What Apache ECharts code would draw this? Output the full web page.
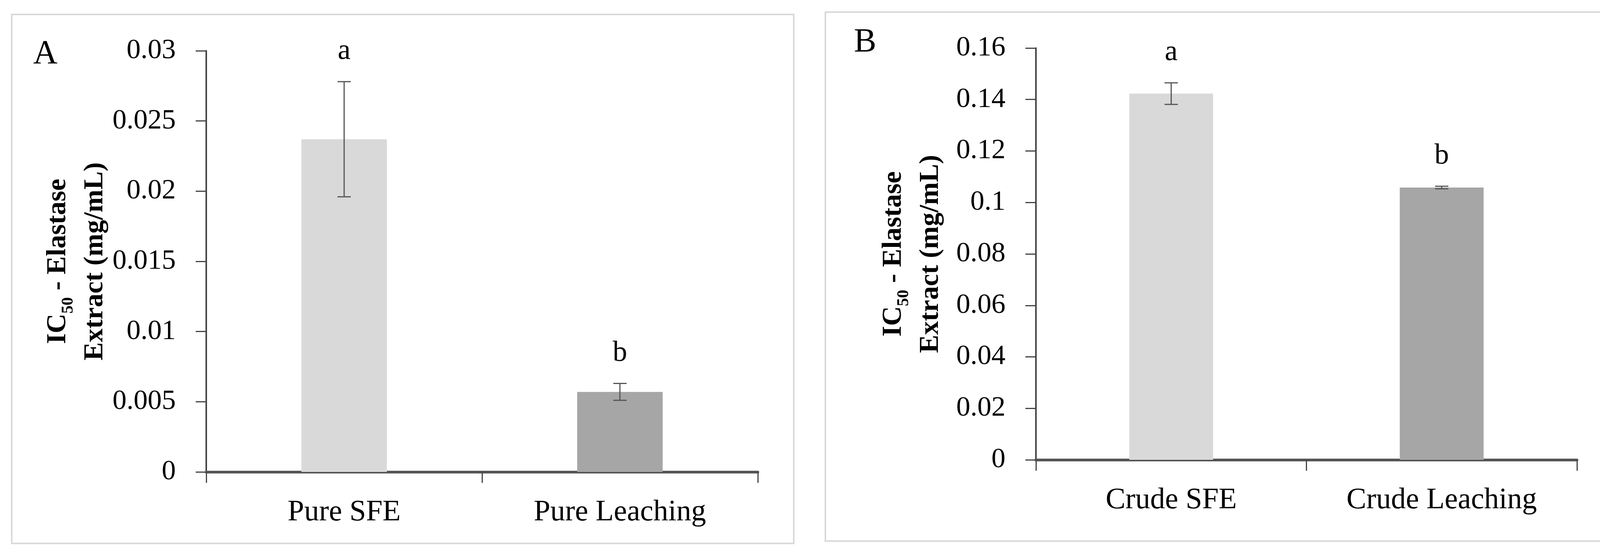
<!DOCTYPE html>
<html>
<head>
<meta charset="utf-8">
<script src="https://cdn.jsdelivr.net/npm/echarts@6/dist/echarts.min.js"></script>
<style>
  html, body { margin: 0; padding: 0; background: #fff; }
  #chart { width: 4167px; height: 1413px; }
</style>
</head>
<body>
<div id="chart"></div>
<script>
// panel A - pure extracts
var catsA = ['Pure SFE', 'Pure Leaching'];
var meanA = [0.0237, 0.0057];
var errA = [0.0041, 0.0006];
var letterA = ['a', 'b'];
var ticksA = ['0', '0.005', '0.01', '0.015', '0.02', '0.025', '0.03'];

// panel B - crude extracts
var catsB = ['Crude SFE', 'Crude Leaching'];
var meanB = [0.1423, 0.1058];
var errB = [0.0042, 0.0005];
var letterB = ['a', 'b'];
var ticksB = ['0', '0.02', '0.04', '0.06', '0.08', '0.1', '0.12', '0.14', '0.16'];

var barColors = ['#d9d9d9', '#a6a6a6'];
var serif = '"Liberation Serif", "DejaVu Serif", serif';

var dom = document.getElementById('chart');
var myChart = echarts.init(dom);

function yName() {
    return '{b|IC}{s|50}{b| - Elastase}\n{b|Extract (mg/mL)}';
}

function yAxisOf(idx, max, step, ticks, gap) {
    return {
        type: 'value',
        gridIndex: idx,
        min: 0,
        max: max,
        interval: step,
        name: yName(),
        nameLocation: 'middle',
        nameRotate: 90,
        nameGap: gap,
        nameMoveOverlap: false,
        nameTextStyle: {
            rich: {
                b: {fontFamily: serif, fontWeight: 'bold', fontSize: 70, lineHeight: 95, color: '#000'},
                s: {fontFamily: serif, fontWeight: 'bold', fontSize: 42, lineHeight: 44,
                    verticalAlign: 'bottom', color: '#000'}
            }
        },
        splitLine: {show: false},
        axisLine: {show: true, lineStyle: {color: '#444', width: 4}},
        axisTick: {show: true, length: 27, lineStyle: {color: '#444', width: 3}},
        axisLabel: {
            margin: 78,
            fontFamily: serif,
            fontSize: 72,
            color: '#000',
            formatter: function (v) {
                return ticks[Math.round(v / step)];
            }
        }
    };
}

function xAxisOf(idx, cats) {
    return {
        type: 'category',
        gridIndex: idx,
        data: cats,
        axisLine: {show: true, lineStyle: {color: '#555', width: 7}},
        axisTick: {show: true, length: 28, lineStyle: {color: '#444', width: 3}},
        axisLabel: {margin: 66, fontFamily: serif, fontSize: 76, color: '#000'}
    };
}

function barData(vals) {
    return vals.map(function (v, i) {
        return {value: v, itemStyle: {color: barColors[i]}};
    });
}

function errSeries(idx, means, errs, letters) {
    return {
        type: 'custom',
        xAxisIndex: idx,
        yAxisIndex: idx,
        z: 5,
        clip: false,
        data: means.map(function (m, i) { return [i, m, errs[i]]; }),
        renderItem: function (params, api) {
            var x = api.value(0), m = api.value(1), e = api.value(2);
            var top = api.coord([x, m + e]);
            var bot = api.coord([x, m - e]);
            var half = 17;
            var ls = {stroke: '#555', lineWidth: 3};
            return {
                type: 'group',
                children: [
                    {type: 'line', shape: {x1: top[0], y1: top[1], x2: bot[0], y2: bot[1]}, style: ls},
                    {type: 'line', shape: {x1: top[0] - half, y1: top[1], x2: top[0] + half, y2: top[1]}, style: ls},
                    {type: 'line', shape: {x1: bot[0] - half, y1: bot[1], x2: bot[0] + half, y2: bot[1]}, style: ls},
                    {type: 'text', style: {
                        text: letters[params.dataIndex],
                        x: top[0], y: top[1] - 40,
                        align: 'center', verticalAlign: 'bottom',
                        fontFamily: serif, fontSize: 74, fill: '#000'
                    }}
                ]
            };
        }
    };
}

option = {
    backgroundColor: '#fff',
    animation: false,
    graphic: [
        {type: 'rect', shape: {x: 30, y: 37, width: 2002, height: 1354},
            style: {fill: 'none', stroke: '#d9d9d9', lineWidth: 4}},
        {type: 'rect', shape: {x: 2113, y: 31, width: 2027, height: 1354},
            style: {fill: 'none', stroke: '#d9d9d9', lineWidth: 4}},
        {type: 'text', left: 85, top: 96,
            style: {text: 'A', fontFamily: serif, fontSize: 86, fill: '#000'}},
        {type: 'text', left: 2186, top: 66,
            style: {text: 'B', fontFamily: serif, fontSize: 86, fill: '#000'}}
    ],
    grid: [
        {left: 528, top: 130, width: 1412, height: 1078},
        {left: 2652, top: 123, width: 1385, height: 1054}
    ],
    xAxis: [xAxisOf(0, catsA), xAxisOf(1, catsB)],
    yAxis: [
        yAxisOf(0, 0.03, 0.005, ticksA, 237),
        yAxisOf(1, 0.16, 0.02, ticksB, 222)
    ],
    series: [
        {type: 'bar', xAxisIndex: 0, yAxisIndex: 0, barWidth: '31%', data: barData(meanA)},
        {type: 'bar', xAxisIndex: 1, yAxisIndex: 1, barWidth: '31%', data: barData(meanB)},
        errSeries(0, meanA, errA, letterA),
        errSeries(1, meanB, errB, letterB)
    ]
};

if (option && typeof option === "object") {
    myChart.setOption(option, true);
}
</script>
</body>
</html>
